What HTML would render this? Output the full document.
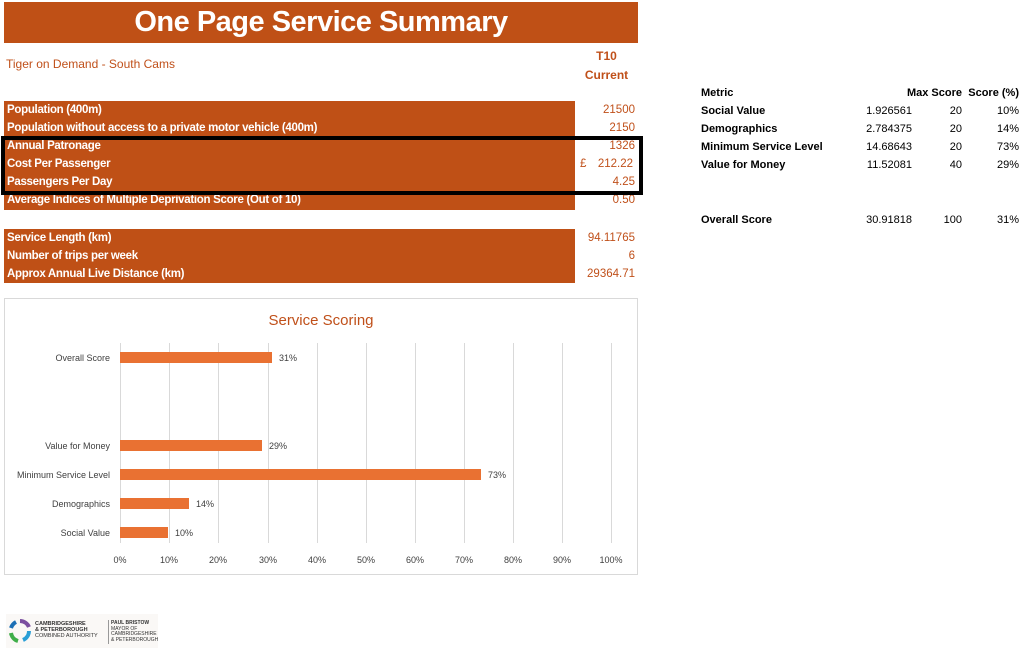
<!DOCTYPE html>
<html><head><style>
body{margin:0;width:1023px;height:654px;background:#fff;font-family:"Liberation Sans",sans-serif;position:relative;overflow:hidden}
.a{position:absolute;white-space:nowrap}
.o{background:#BF5016}
.l{color:#fff;font-weight:bold;font-size:11.5px;left:7px;letter-spacing:-0.3px}
.v{color:#C0501A;font-size:11.5px;right:388px;text-align:right}
.r{font-size:11px;color:#000}
.b{font-weight:bold}
</style></head><body>
<div class="a o" style="left:4px;top:2px;width:634px;height:41px;color:#fff;font-weight:bold;font-size:29px;text-align:center;line-height:41px;letter-spacing:-0.5px">One Page Service Summary</div>
<div class="a" style="left:6px;top:57px;color:#C0501A;font-size:12px">Tiger on Demand - South Cams</div>
<div class="a" style="left:575px;top:47px;width:63px;text-align:center;color:#C0501A;font-weight:bold;font-size:12px;line-height:19px">T10<br>Current</div>
<div class="a o" style="left:4px;top:101px;width:571px;height:109px"></div>
<div class="a o" style="left:4px;top:229px;width:571px;height:54px"></div>
<div class="a l" style="top:104px">Population (400m)</div>
<div class="a l" style="top:122px">Population without access to a private motor vehicle (400m)</div>
<div class="a l" style="top:140px">Annual Patronage</div>
<div class="a l" style="top:158px">Cost Per Passenger</div>
<div class="a l" style="top:176px">Passengers Per Day</div>
<div class="a l" style="top:194px">Average Indices of Multiple Deprivation Score (Out of 10)</div>
<div class="a l" style="top:232px">Service Length (km)</div>
<div class="a l" style="top:250px">Number of trips per week</div>
<div class="a l" style="top:268px">Approx Annual Live Distance (km)</div>
<div class="a v" style="top:104px">21500</div>
<div class="a v" style="top:122px">2150</div>
<div class="a v" style="top:140px">1326</div>
<div class="a v" style="top:158px;left:580px;right:auto">£</div>
<div class="a v" style="top:158px;right:390px">212.22</div>
<div class="a v" style="top:176px">4.25</div>
<div class="a v" style="top:194px">0.50</div>
<div class="a v" style="top:232px">94.11765</div>
<div class="a v" style="top:250px">6</div>
<div class="a v" style="top:268px">29364.71</div>
<div class="a" style="left:1px;top:136px;width:634px;height:51px;border:4px solid #000"></div>

<div class="a r b" style="left:701px;top:87px">Metric</div>
<div class="a r b" style="right:61px;top:87px">Max Score</div>
<div class="a r b" style="right:4px;top:87px">Score (%)</div>
<div class="a r b" style="left:701px;top:105px">Social Value</div>
<div class="a r b" style="left:701px;top:123px">Demographics</div>
<div class="a r b" style="left:701px;top:141px">Minimum Service Level</div>
<div class="a r b" style="left:701px;top:159px">Value for Money</div>
<div class="a r b" style="left:701px;top:214px">Overall Score</div>
<div class="a r" style="right:111px;top:105px">1.926561</div>
<div class="a r" style="right:111px;top:123px">2.784375</div>
<div class="a r" style="right:111px;top:141px">14.68643</div>
<div class="a r" style="right:111px;top:159px">11.52081</div>
<div class="a r" style="right:111px;top:214px">30.91818</div>
<div class="a r" style="right:61px;top:105px">20</div>
<div class="a r" style="right:61px;top:123px">20</div>
<div class="a r" style="right:61px;top:141px">20</div>
<div class="a r" style="right:61px;top:159px">40</div>
<div class="a r" style="right:61px;top:214px">100</div>
<div class="a r" style="right:4px;top:105px">10%</div>
<div class="a r" style="right:4px;top:123px">14%</div>
<div class="a r" style="right:4px;top:141px">73%</div>
<div class="a r" style="right:4px;top:159px">29%</div>
<div class="a r" style="right:4px;top:214px">31%</div>

<svg class="a" style="left:4px;top:298px" width="635" height="278" font-family="Liberation Sans,sans-serif">
<rect x="0.5" y="0.5" width="633" height="276" fill="#fff" stroke="#d9d9d9"/>
<text x="317" y="27" text-anchor="middle" font-size="15" fill="#C0501A">Service Scoring</text>
<g stroke="#d9d9d9" stroke-width="1">
<line x1="116.5" y1="45" x2="116.5" y2="245"/><line x1="165.5" y1="45" x2="165.5" y2="245"/><line x1="214.5" y1="45" x2="214.5" y2="245"/><line x1="264.5" y1="45" x2="264.5" y2="245"/><line x1="313.5" y1="45" x2="313.5" y2="245"/><line x1="362.5" y1="45" x2="362.5" y2="245"/><line x1="411.5" y1="45" x2="411.5" y2="245"/><line x1="460.5" y1="45" x2="460.5" y2="245"/><line x1="509.5" y1="45" x2="509.5" y2="245"/><line x1="558.5" y1="45" x2="558.5" y2="245"/><line x1="607.5" y1="45" x2="607.5" y2="245"/>
</g>
<g fill="#E97132">
<rect x="116" y="54" width="152" height="11"/>
<rect x="116" y="142" width="142" height="11"/>
<rect x="116" y="171" width="361" height="11"/>
<rect x="116" y="200" width="69" height="11"/>
<rect x="116" y="229" width="48" height="11"/>
</g>
<g font-size="9" fill="#404040">
<text x="106" y="63" text-anchor="end">Overall Score</text>
<text x="106" y="151" text-anchor="end">Value for Money</text>
<text x="106" y="180" text-anchor="end">Minimum Service Level</text>
<text x="106" y="209" text-anchor="end">Demographics</text>
<text x="106" y="238" text-anchor="end">Social Value</text>
<text x="275" y="63">31%</text><text x="265" y="151">29%</text><text x="484" y="180">73%</text><text x="192" y="209">14%</text><text x="171" y="238">10%</text>
<g text-anchor="middle">
<text x="116" y="265">0%</text><text x="165" y="265">10%</text><text x="214" y="265">20%</text><text x="264" y="265">30%</text><text x="313" y="265">40%</text><text x="362" y="265">50%</text><text x="411" y="265">60%</text><text x="460" y="265">70%</text><text x="509" y="265">80%</text><text x="558" y="265">90%</text><text x="607" y="265">100%</text>
</g></g>
</svg>

<div class="a" style="left:6px;top:614px;width:152px;height:34px;background:#faf8f6"></div>
<svg class="a" style="left:8px;top:618px" width="24" height="26"><g fill="none" stroke-width="4"><path d="M12 3 A10 10 0 0 1 21 9" stroke="#7b4fa0"/><path d="M21 13 A10 10 0 0 1 15 22" stroke="#2a9fd6"/><path d="M10 23 A10 10 0 0 1 3 15" stroke="#3fae49"/><path d="M3 10 A10 10 0 0 1 8 4" stroke="#1c6fb5"/></g></svg>
<div class="a" style="left:35px;top:621px;font-size:5.5px;font-weight:bold;line-height:6px;color:#333">CAMBRIDGESHIRE<br>&amp; PETERBOROUGH<br><span style="font-weight:normal">COMBINED AUTHORITY</span></div>
<div class="a" style="left:108px;top:620px;width:1px;height:24px;background:#999"></div>
<div class="a" style="left:111px;top:621px;font-size:5px;line-height:5.5px;color:#333"><b>PAUL BRISTOW</b><br>MAYOR OF<br>CAMBRIDGESHIRE<br>&amp; PETERBOROUGH</div>
</body></html>
